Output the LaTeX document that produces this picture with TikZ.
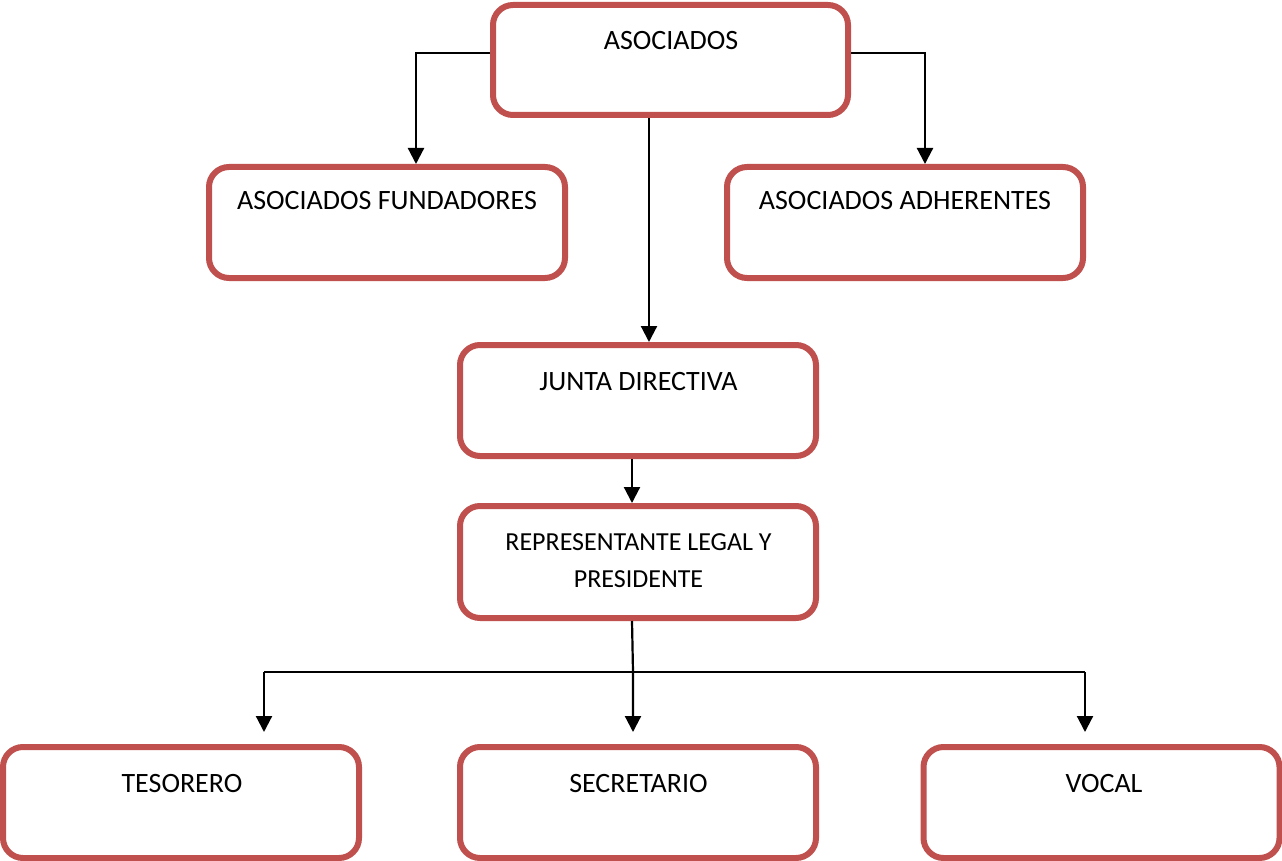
\documentclass[tikz,border=0pt]{standalone}
\usepackage{fontspec}
\setmainfont{Carlito}
\usetikzlibrary{arrows.meta}
\definecolor{boxred}{HTML}{C0504D}
\begin{document}
\begin{tikzpicture}[x=1pt,y=-1pt,
  orgbox/.style={draw=boxred,line width=6pt,rounded corners=20pt,fill=white,
    minimum width=356pt,minimum height=111pt,inner sep=0pt},
  lbl/.style={anchor=base,inner sep=0pt,font=\fontsize{28}{34}\selectfont},
  conn/.style={draw=black,line width=2.2pt},
  arr/.style={conn,-{Triangle[width=16pt,length=16pt]}}]
\useasboundingbox (0,0) rectangle (1282,861);
\fill[white] (0,0) rectangle (1282,861);
% boxes
\node[orgbox,minimum width=355pt,minimum height=110pt] (A) at (670.5,60) {};
\node[orgbox] (F) at (387,222.5) {};
\node[orgbox] (H) at (905,222.5) {};
\node[orgbox] (J) at (638,400.5) {};
\node[orgbox,minimum height=112pt] (R) at (638,562) {};
\node[orgbox] (T) at (181,802.5) {};
\node[orgbox] (S) at (638,802.5) {};
\node[orgbox] (V) at (1101.5,802.5) {};
% labels
\node[lbl] (tA) at (671,50) {ASOCIADOS};
\node[lbl] (tF) at (387,210) {ASOCIADOS FUNDADORES};
\node[lbl] (tH) at (905,210) {ASOCIADOS ADHERENTES};
\node[lbl] (tJ) at (638.5,390) {JUNTA DIRECTIVA};
\node[lbl,font=\fontsize{26}{37}\selectfont] (tR1) at (638.5,550) {REPRESENTANTE LEGAL Y};
\node[lbl,font=\fontsize{26}{37}\selectfont] (tR2) at (638.5,587) {PRESIDENTE};
\node[lbl] (tT) at (182,792) {TESORERO};
\node[lbl] (tS) at (638.5,792) {SECRETARIO};
\node[lbl] (tV) at (1104,792) {VOCAL};
% connectors
\draw[arr] ([yshift=7pt]A.west) -| ([xshift=29pt]F.north);
\draw[arr] ([yshift=7pt]A.east) -| ([xshift=20pt]H.north);
\draw[arr] ([xshift=-21.5pt]A.south) -- ([xshift=11pt]J.north);
\draw[arr] ([xshift=-6pt]J.south) -- ([xshift=-6pt]R.north);
\coordinate (bus) at (633,672);
\coordinate (tl) at ([xshift=83pt]T.north);
\coordinate (sl) at ([xshift=-5pt]S.north);
\coordinate (vl) at ([xshift=-16.5pt]V.north);
\draw[arr,shorten >=12pt] ([xshift=-6pt]R.south) -- (bus) -- (sl);
\draw[conn] (tl |- bus) -- (vl |- bus);
\draw[arr,shorten >=12pt] (tl |- bus) -- (tl);
\draw[arr,shorten >=12pt] (vl |- bus) -- (vl);
\end{tikzpicture}
\end{document}
